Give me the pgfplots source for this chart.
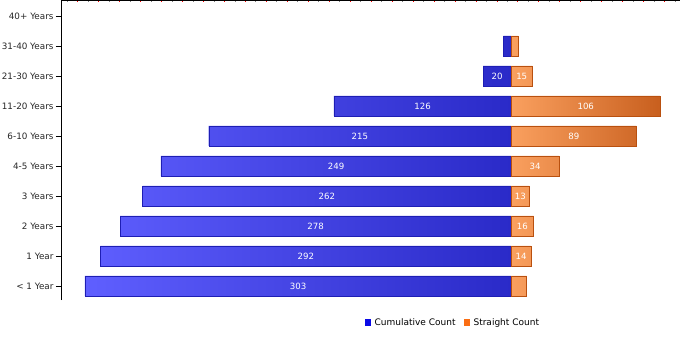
\documentclass[border=0pt]{standalone}
\usepackage{pgfplots}
\pgfplotsset{compat=1.18}
\usepackage{fontspec}
\setmainfont{DejaVu Sans}
\definecolor{bluel}{RGB}{95,95,255}
\definecolor{blued}{RGB}{42,42,200}
\definecolor{blueb}{RGB}{30,30,180}
\definecolor{orl}{RGB}{250,160,95}
\definecolor{ord}{RGB}{200,95,30}
\definecolor{orb}{RGB}{185,80,15}
\definecolor{legblue}{RGB}{10,10,230}
\definecolor{legor}{RGB}{250,110,20}
\begin{document}
\begin{tikzpicture}
\useasboundingbox (0,0) rectangle (700bp,350bp);
\begin{axis}[
  at={(61bp,50bp)}, anchor=south west,
  scale only axis, width=619bp, height=300bp,
  xmin=-320, xmax=120, ymin=-0.467, ymax=9.533,
  axis x line=top, axis y line=left, axis line style={-,black},
  xtick={-315.8,-300.9,...,120}, minor x tick num=1,
  xticklabels={},
  major x tick style={gray}, minor x tick style={red},
  tick align=center, major tick length=5bp, minor tick length=5bp,
  ytick={0,...,9},
  yticklabels={{< 1 Year},{1 Year},{2 Years},{3 Years},{4-5 Years},{6-10 Years},{11-20 Years},{21-30 Years},{31-40 Years},{40+ Years}},
  y tick style={black},
  yticklabel style={font=\fontsize{8.8bp}{10bp}\selectfont, text=black!85, xshift=1bp},
  xbar, bar width=20bp, bar shift=0pt,
  legend style={at={(0.633,-0.075)}, anchor=center, draw=none, fill=none, legend columns=2,
    font=\fontsize{9bp}{10bp}\selectfont, /tikz/every even column/.append style={column sep=6bp}},
  clip=false,
]
\addplot[forget plot, draw=blueb, left color=bluel, right color=blued] coordinates {
(-303,0) (-292,1) (-278,2) (-262,3) (-249,4) (-215,5) (-126,6) (-20,7) (-5.5,8)};
\addplot[forget plot, draw=orb, left color=orl, right color=ord] coordinates {
(11,0) (14,1) (16,2) (13,3) (34,4) (89,5) (106,6) (15,7) (5,8)};
\addplot[forget plot, only marks, mark=none, nodes near coords, point meta=explicit symbolic,
  every node near coord/.style={anchor=center, text=white, font=\fontsize{8.6bp}{9bp}\selectfont}]
  table[meta=l] {
x y l
-151.5 0 303
-146 1 292
-139 2 278
-131 3 262
-124.5 4 249
-107.5 5 215
-63 6 126
-10 7 20
7 1 14
8 2 16
6.5 3 13
17 4 34
44.5 5 89
53 6 106
7.5 7 15
};
\addlegendimage{legend image code/.code={\fill[legblue,draw=none] (0,-3bp) rectangle (6bp,3bp); \path[draw=none,fill=none] (0,0) -- (8bp,0);}}
\addlegendentry{Cumulative Count}
\addlegendimage{legend image code/.code={\fill[legor,draw=none] (0,-3bp) rectangle (6bp,3bp); \path[draw=none,fill=none] (0,0) -- (8bp,0);}}
\addlegendentry{Straight Count}
\end{axis}
\end{tikzpicture}
\end{document}
